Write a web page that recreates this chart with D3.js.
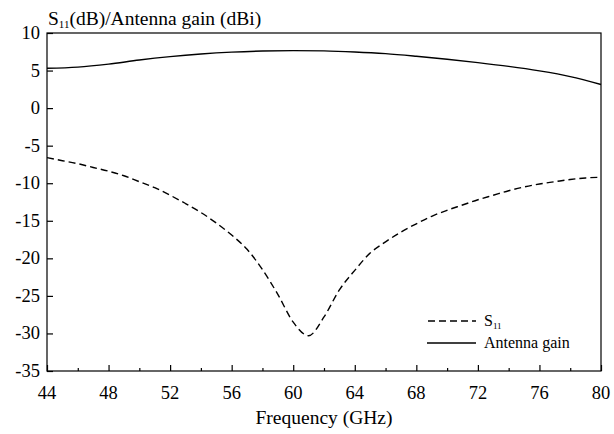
<!DOCTYPE html>
<html>
<head>
<meta charset="utf-8">
<script src="https://cdn.jsdelivr.net/npm/d3@7"></script>
<style>
  body { margin: 0; background: #fff; }
  svg { display: block; }
  svg text { font-family: 'Liberation Serif', 'DejaVu Serif', serif !important; }
</style>
</head>
<body>
<script>
// data
const freqS11 = [44, 45, 46, 47, 48, 49, 50, 51, 52, 53, 54, 55, 56, 57, 58, 59, 60, 61, 62, 63, 64, 65, 66, 67, 68, 69, 70, 71, 72, 73, 74, 75, 76, 77, 78, 79, 80];
const s11 = [-6.6, -7.0, -7.4, -7.9, -8.4, -9.0, -9.8, -10.6, -11.6, -12.7, -13.9, -15.3, -16.9, -18.8, -21.5, -24.8, -28.5, -30.3, -27.8, -24.2, -21.6, -19.3, -17.8, -16.5, -15.4, -14.4, -13.6, -12.9, -12.2, -11.6, -11.0, -10.5, -10.1, -9.8, -9.5, -9.3, -9.2];
const freqGain = [44, 46, 48, 50, 52, 54, 56, 58, 60, 62, 64, 66, 68, 70, 72, 74, 76, 78, 80];
const gain = [5.3, 5.45, 5.85, 6.4, 6.85, 7.2, 7.45, 7.6, 7.65, 7.62, 7.48, 7.25, 6.9, 6.5, 6.05, 5.55, 4.95, 4.2, 3.15];
const xTicks = [44, 48, 52, 56, 60, 64, 68, 72, 76, 80];
const xMinor = [46, 50, 54, 58, 62, 66, 70, 74, 78];
const yTicks = [10, 5, 0, -5, -10, -15, -20, -25, -30, -35];

function main() {
    const width = 614;
    const height = 434;
    const margin = {top: 33, right: 13, bottom: 63, left: 47};

    const svg = d3.select("body").append("svg")
        .attr("width", width)
        .attr("height", height);

    const x = d3.scaleLinear().domain([44, 80]).range([margin.left, width - margin.right]);
    const y = d3.scaleLinear().domain([-35, 10]).range([height - margin.bottom, margin.top]);

    // frame
    svg.append("rect")
        .attr("x", x(44)).attr("y", y(10))
        .attr("width", x(80) - x(44)).attr("height", y(-35) - y(10))
        .attr("fill", "none").attr("stroke", "#000").attr("stroke-width", 1.2);

    // y axis, ticks inward
    const yAxis = svg.append("g")
        .attr("transform", `translate(${x(44)},0)`)
        .call(d3.axisRight(y).tickValues(yTicks).tickSize(6).tickFormat(""));
    yAxis.select(".domain").remove();
    yAxis.selectAll("line").attr("stroke-width", 1.2);

    svg.append("g").selectAll("text")
        .data(yTicks)
        .join("text")
        .attr("x", x(44) - 7)
        .attr("y", d => y(d) + 6)
        .attr("text-anchor", "end")
        .attr("font-size", 18.5)
        .text(d => d);

    // x axis, ticks inward
    const xAxis = svg.append("g")
        .attr("transform", `translate(0,${y(-35)})`)
        .call(d3.axisTop(x).tickValues(xTicks).tickSize(6).tickFormat(""));
    xAxis.select(".domain").remove();
    xAxis.selectAll("line").attr("stroke-width", 1.2);

    const xMin = svg.append("g")
        .attr("transform", `translate(0,${y(-35)})`)
        .call(d3.axisTop(x).tickValues(xMinor).tickSize(3).tickFormat(""));
    xMin.select(".domain").remove();
    xMin.selectAll("line").attr("stroke-width", 1.2);

    svg.append("g").selectAll("text")
        .data(xTicks)
        .join("text")
        .attr("x", d => x(d))
        .attr("y", y(-35) + 28)
        .attr("text-anchor", "middle")
        .attr("font-size", 18.5)
        .text(d => d);

    svg.append("text")
        .attr("x", (x(44) + x(80)) / 2)
        .attr("y", height - 10)
        .attr("text-anchor", "middle")
        .attr("font-size", 19.5)
        .text("Frequency (GHz)");

    // y title
    const title = svg.append("text")
        .attr("x", x(44) + 1)
        .attr("y", 25)
        .attr("font-size", 19.5);
    title.append("tspan").text("S");
    title.append("tspan").attr("font-size", 11).attr("dy", 3).text("11");
    title.append("tspan").attr("dy", -3).text("(dB)/Antenna gain (dBi)");

    // curves
    const lineS11 = d3.line()
        .x((d, i) => x(freqS11[i]))
        .y(d => y(d))
        .curve(d3.curveMonotoneX);

    const lineGain = d3.line()
        .x((d, i) => x(freqGain[i]))
        .y(d => y(d))
        .curve(d3.curveMonotoneX);

    svg.append("path")
        .attr("d", lineS11(s11))
        .attr("fill", "none")
        .attr("stroke", "#000")
        .attr("stroke-width", 1.4)
        .attr("stroke-dasharray", "7,4");

    svg.append("path")
        .attr("d", lineGain(gain))
        .attr("fill", "none")
        .attr("stroke", "#000")
        .attr("stroke-width", 1.4);

    // legend
    const legend = svg.append("g");
    legend.append("line")
        .attr("x1", 428).attr("x2", 476)
        .attr("y1", 321).attr("y2", 321)
        .attr("stroke", "#000").attr("stroke-width", 1.4)
        .attr("stroke-dasharray", "7,4");
    const lt = legend.append("text")
        .attr("x", 484).attr("y", 326)
        .attr("font-size", 16);
    lt.append("tspan").text("S");
    lt.append("tspan").attr("font-size", 9).attr("dy", 3).text("11");

    legend.append("line")
        .attr("x1", 427).attr("x2", 476)
        .attr("y1", 343).attr("y2", 343)
        .attr("stroke", "#000").attr("stroke-width", 1.4);
    legend.append("text")
        .attr("x", 484).attr("y", 348)
        .attr("font-size", 16)
        .text("Antenna gain");
}

addEventListener('DOMContentLoaded', main)
</script>
</body>
</html>
